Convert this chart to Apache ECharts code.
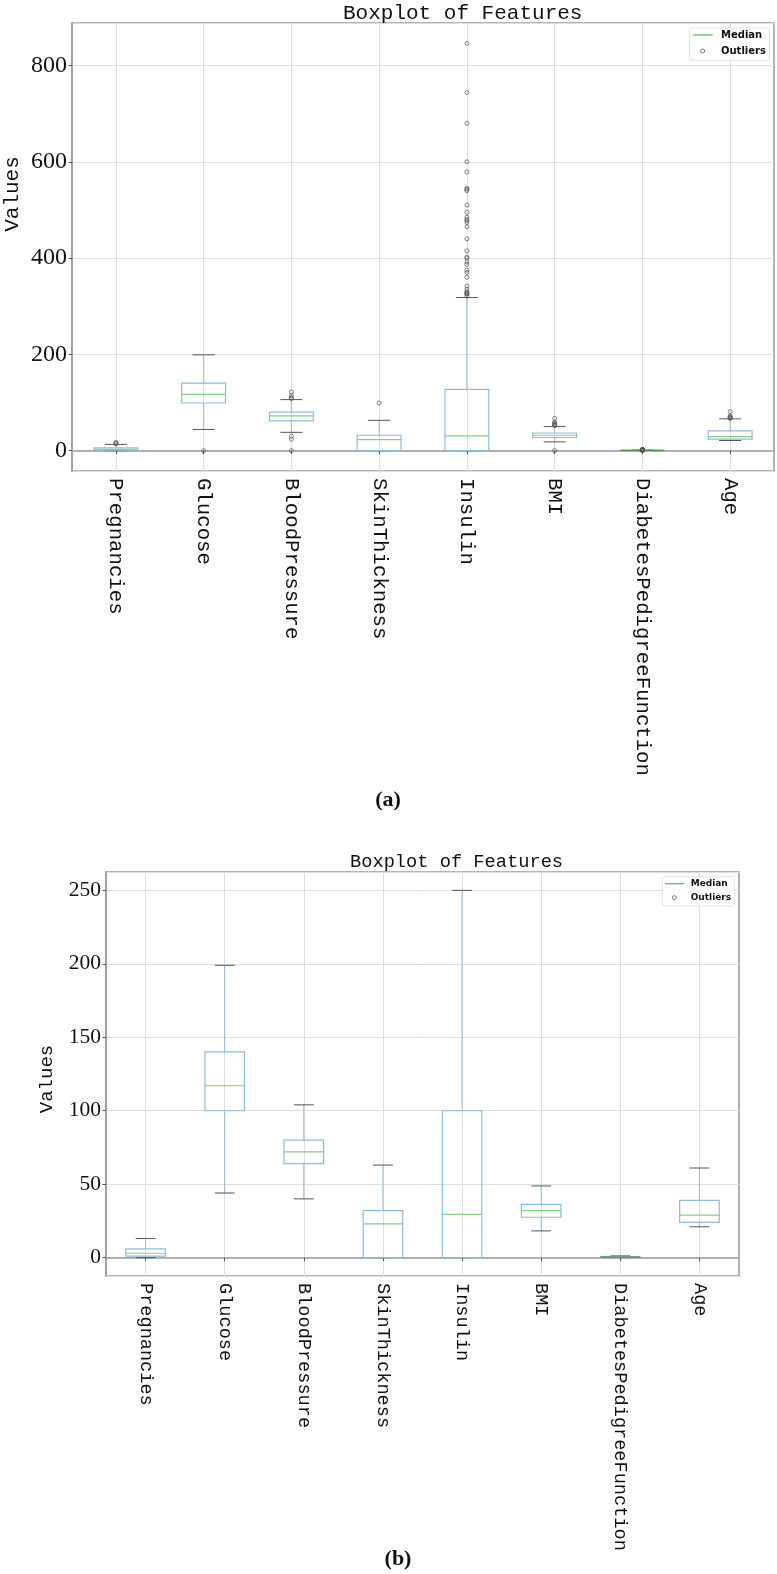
<!DOCTYPE html>
<html><head><meta charset="utf-8">
<script src="https://cdn.jsdelivr.net/npm/echarts@6/dist/echarts.min.js"></script>
<style>html,body{margin:0;padding:0;background:#fff}#c{width:777px;height:1574px}</style>
</head><body><div id="c"></div>
<script>
const categories = ['Pregnancies','Glucose','BloodPressure','SkinThickness','Insulin','BMI','DiabetesPedigreeFunction','Age'];
// (a) raw data: [lowWhisker, Q1, median, Q3, highWhisker]
const boxesA = [
  [0, 1, 3, 6, 13],
  [44, 99, 117, 140.25, 199],
  [38, 62, 72, 80, 106],
  [0, 0, 23, 32, 63],
  [0, 0, 30.5, 127.25, 318],
  [18.2, 27.3, 32, 36.6, 50],
  [0.078, 0.244, 0.373, 0.626, 1.191],
  [21, 24, 29, 41, 66]
];
const outliersA = [
  [14, 15, 17],
  [0],
  [0, 24, 30, 108, 110, 114, 122],
  [99],
  [321, 325, 326, 328, 330, 335, 342, 360, 370, 375, 387, 392, 400, 402, 415, 440, 465, 474, 478, 480, 485, 495, 510, 540, 543, 545, 579, 600, 680, 744, 846],
  [0, 52.3, 52.9, 53.2, 55, 57.3, 59.4, 67.1],
  [1.213, 1.222, 1.224, 1.251, 1.258, 1.282, 1.292, 1.318, 1.321, 1.353, 1.39, 1.394, 1.4, 1.441, 1.461, 1.476, 1.6, 1.698, 1.699, 1.731, 1.781, 1.893, 2.137, 2.288, 2.329, 2.42],
  [67, 68, 69, 70, 72, 81]
];
// (b) processed data
const boxesB = [
  [0, 1, 3, 6, 13],
  [44, 100, 117, 140, 199],
  [40, 64, 72, 80, 104],
  [0, 0, 23, 32, 63],
  [0, 0, 29.5, 100, 250],
  [18.2, 27.5, 32, 36.3, 48.8],
  [0.078, 0.244, 0.373, 0.626, 1.191],
  [21, 24, 29, 39, 61]
];
const yTicksA = [0, 200, 400, 600, 800];
const yTicksB = [0, 50, 100, 150, 200, 250];
const axisRangeA = [-42.3, 888.3];
const axisRangeB = [-12.5, 262.5];

const BOX = '#8dbbe0', MED = '#86cc86', CAP = '#555', GRID = '#dedede', SPINE = '#9a9a9a';

function boxRender(params, api) {
  const i = api.value(0);
  const bw = api.size([1, 0])[0];
  const hb = bw * 0.25, hc = bw * 0.125;
  const lo = api.coord([i, api.value(1)]);
  const q1 = api.coord([i, api.value(2)]);
  const md = api.coord([i, api.value(3)]);
  const q3 = api.coord([i, api.value(4)]);
  const hi = api.coord([i, api.value(5)]);
  const x = lo[0];
  const ln = (x1, y1, x2, y2, c, w) => ({type: 'line', shape: {x1, y1, x2, y2}, style: {stroke: c, lineWidth: w}});
  return {type: 'group', children: [
    ln(x, q1[1], x, lo[1], BOX, 1),
    ln(x, q3[1], x, hi[1], BOX, 1),
    ln(x - hc, lo[1], x + hc, lo[1], CAP, 1),
    ln(x - hc, hi[1], x + hc, hi[1], CAP, 1),
    {type: 'rect', shape: {x: x - hb, y: q3[1], width: 2 * hb, height: Math.max(q1[1] - q3[1], 0.5)}, style: {fill: 'none', stroke: BOX, lineWidth: 1.2}},
    ln(x - hb, md[1], x + hb, md[1], i === 6 ? '#3a9a3a' : MED, 1.2)
  ]};
}

function axisSet(gi, ticks, range, labelSize, xLabelSize, xMargin) {
  return {
    x: {
      type: 'category', gridIndex: gi, data: categories, boundaryGap: true,
      axisLine: {show: true, lineStyle: {color: SPINE, width: 1.5}},
      axisTick: {show: true, alignWithLabel: true, length: 3.5, lineStyle: {color: '#555'}},
      axisLabel: {rotate: -90, margin: xMargin, fontFamily: 'Liberation Mono', fontSize: xLabelSize, color: '#111', interval: 0},
      splitLine: {show: true, alignWithLabel: true, lineStyle: {color: GRID, width: 1}}
    },
    y: {
      type: 'value', gridIndex: gi, min: range[0], max: range[1],
      axisLine: {show: true, lineStyle: {color: SPINE, width: 1.5}},
      axisTick: {show: true, length: 3.5, lineStyle: {color: '#555'}},
      axisLabel: {margin: 5, fontFamily: 'Liberation Serif', fontSize: labelSize, color: '#111',
        showMinLabel: false, showMaxLabel: false,
        formatter: v => ticks.includes(v) ? String(v) : ''},
      splitLine: {show: true, lineStyle: {color: GRID, width: 1}}
    }
  };
}
const A = axisSet(0, yTicksA, axisRangeA, 24, 20.7, 7);
const B = axisSet(1, yTicksB, axisRangeB, 21.5, 18.6, 7);

const outA = [];
outliersA.forEach((arr, i) => arr.forEach(v => outA.push([i, v])));

function legend(x, y, w, h, fs, lineX1, lineX2, textX, y1, y2, cx) {
  return [
    {type: 'rect', shape: {x, y, width: w, height: h, r: 2}, style: {fill: 'rgba(255,255,255,0.85)', stroke: '#e2e2e2', lineWidth: 1}, z: 100},
    {type: 'line', shape: {x1: lineX1, y1: y1, x2: lineX2, y2: y1}, style: {stroke: '#5fb85f', lineWidth: 1.3}, z: 101},
    {type: 'text', x: textX, y: y1, style: {text: 'Median', font: 'bold ' + fs + 'px "DejaVu Sans"', fill: '#111', align: 'left', verticalAlign: 'middle'}, z: 101},
    {type: 'circle', shape: {cx: cx, cy: y2, r: 2}, style: {fill: 'none', stroke: '#666', lineWidth: 0.9}, z: 101},
    {type: 'text', x: textX, y: y2, style: {text: 'Outliers', font: 'bold ' + fs + 'px "DejaVu Sans"', fill: '#111', align: 'left', verticalAlign: 'middle'}, z: 101}
  ];
}

const option = {
  animation: false,
  backgroundColor: '#fff',
  grid: [
    {left: 72, top: 23, width: 702, height: 448, show: true, borderColor: SPINE, borderWidth: 1.5},
    {left: 106, top: 872, width: 633, height: 404, show: true, borderColor: SPINE, borderWidth: 1.5}
  ],
  xAxis: [A.x, B.x],
  yAxis: [A.y, B.y],
  series: [
    {type: 'custom', name: 'boxesA', xAxisIndex: 0, yAxisIndex: 0, renderItem: boxRender,
      encode: {x: 0, y: [1, 2, 3, 4, 5]}, data: boxesA.map((b, i) => [i, ...b]), z: 3},
    {type: 'scatter', name: 'Outliers', xAxisIndex: 0, yAxisIndex: 0, data: outA, symbol: 'circle', symbolSize: 4,
      itemStyle: {color: 'rgba(255,255,255,0)', borderColor: '#555', borderWidth: 0.9}, z: 4},
    {type: 'custom', name: 'boxesB', xAxisIndex: 1, yAxisIndex: 1, renderItem: boxRender,
      encode: {x: 0, y: [1, 2, 3, 4, 5]}, data: boxesB.map((b, i) => [i, ...b]), z: 3}
  ],
  graphic: [
    {type: 'text', x: 343, y: 13, style: {text: 'Boxplot of Features', font: '21px "Liberation Mono"', fill: '#111', align: 'left', verticalAlign: 'middle'}},
    {type: 'text', x: 12.5, y: 194, rotation: Math.PI / 2, style: {text: 'Values', font: '21px "Liberation Mono"', fill: '#111', align: 'center', verticalAlign: 'middle'}},
    {type: 'text', x: 388, y: 800, style: {text: '(a)', font: 'bold 22px "Liberation Serif"', fill: '#111', align: 'center', verticalAlign: 'middle'}},
    {type: 'text', x: 350, y: 862, style: {text: 'Boxplot of Features', font: '18.7px "Liberation Mono"', fill: '#111', align: 'left', verticalAlign: 'middle'}},
    {type: 'text', x: 46.7, y: 1079, rotation: Math.PI / 2, style: {text: 'Values', font: '19px "Liberation Mono"', fill: '#111', align: 'center', verticalAlign: 'middle'}},
    {type: 'text', x: 398, y: 1559, style: {text: '(b)', font: 'bold 22px "Liberation Serif"', fill: '#111', align: 'center', verticalAlign: 'middle'}},
    ...legend(689.3, 28, 80, 32.3, 10, 693, 712.7, 721, 35, 51, 702.7),
    ...legend(662.3, 876.7, 72, 29.3, 9, 665, 684, 690.7, 883.7, 897.7, 674.3)
  ]
};
const chart = echarts.init(document.getElementById('c'), null, {renderer: 'canvas', width: 777, height: 1574});
chart.setOption(option);
</script>
</body></html>
